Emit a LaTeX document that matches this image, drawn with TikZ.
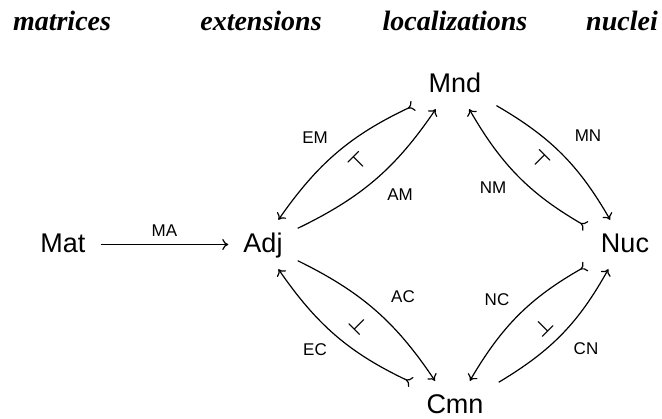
\documentclass[tikz,border=0pt]{standalone}
\usepackage{fontspec}
\usepackage{bm}
\setmainfont{Liberation Serif}
\setsansfont{Liberation Sans}
\usetikzlibrary{arrows.meta}
\tikzset{
  obj/.style={font=\sffamily\fontsize{27}{30}\selectfont, text height=20pt, text depth=3pt, inner xsep=15pt, inner ysep=13pt, anchor=base},
  lab/.style={font=\sffamily\fontsize{17}{20}\selectfont, inner sep=0pt},
  ttl/.style={font=\rmfamily\bfseries\itshape\fontsize{28}{32}\selectfont, inner sep=0pt, anchor=base},
  adj/.style={font=\fontsize{20}{24}\selectfont, inner sep=0pt},
  arr/.style={line width=1.2pt, -{Computer Modern Rightarrow[length=6pt,width=11pt]}},
  tarr/.style={line width=1.2pt, {Computer Modern Rightarrow[reversed,length=6pt,width=11pt]}-{Computer Modern Rightarrow[length=6pt,width=11pt]}}
}
\begin{document}
\begin{tikzpicture}[x=1pt,y=1pt]
\useasboundingbox (0,0) rectangle (662,-419);
% titles
\node[ttl] (t1) at (62,-31) {matrices};
\node[ttl] (t2) at (261,-31) {extensions};
\node[ttl] (t3) at (455,-31) {localizations};
\node[ttl] (t4) at (622,-31) {nuclei};
% objects
\node[obj] (Mat) at (63,-253) {Mat};
\node[obj] (Adj) at (263,-253) {Adj};
\node[obj] (Mnd) at (455,-93) {Mnd};
\node[obj] (Nuc) at (625,-253) {Nuc};
\node[obj] (Cmn) at (455,-414) {Cmn};
% arrows
\draw[arr] (Mat) -- node[lab, above=7pt] (lMA) {MA} (Adj);
\draw[tarr] (Mnd.207.6) to[bend right=15] (Adj.58.5);
\draw[arr] (Adj.25) to[bend right=15] (Mnd.232.5);
\draw[arr] (Mnd.333) to[bend left=15] (Nuc.121.5);
\draw[tarr] (Nuc.155) to[bend left=15] (Mnd.300);
\draw[arr] (Adj.-25) to[bend left=15] (Cmn.129);
\draw[tarr] (Cmn.152.4) to[bend left=15] (Adj.-58.5);
\draw[tarr] (Nuc.209.4) to[bend right=15] (Cmn.59.5);
\draw[arr] (Cmn.28.6) to[bend right=15] (Nuc.236);
% labels
\node[lab] (lEM) at (315,-138) {EM};
\node[lab] (lAM) at (400,-195) {AM};
\node[lab] (lNM) at (493,-188) {NM};
\node[lab] (lMN) at (588,-136) {MN};
\node[lab] (lAC) at (403,-297) {AC};
\node[lab] (lEC) at (315,-350) {EC};
\node[lab] (lNC) at (497,-300) {NC};
\node[lab] (lCN) at (586,-349) {CN};
% adjunction symbols
\node[adj, rotate=45] (s1) at (358,-162) {$\bm{\top}$};
\node[adj, rotate=-45] (s2) at (540,-160) {$\bm{\top}$};
\node[adj, rotate=-45] (s3) at (359,-325) {$\bm{\bot}$};
\node[adj, rotate=45] (s4) at (543,-327) {$\bm{\bot}$};
\end{tikzpicture}
\end{document}
